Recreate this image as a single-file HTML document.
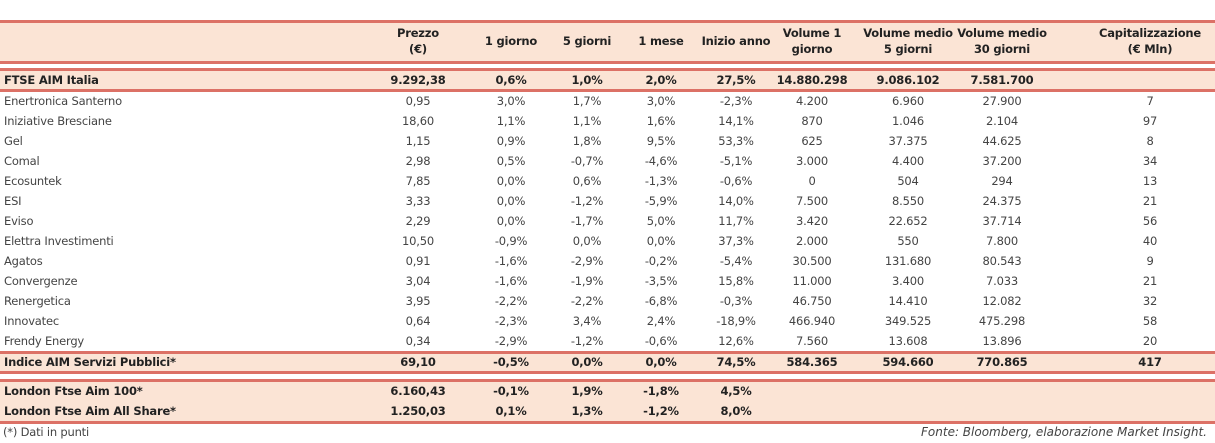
<!DOCTYPE html>
<html><head><meta charset="utf-8"><style>
body{margin:0;width:1215px;height:443px;background:#fff;font-family:"DejaVu Sans","Liberation Sans",sans-serif;position:relative;overflow:hidden}
.band{position:absolute;left:0;width:1215px;background:#fbe4d5}
.ln{position:absolute;left:0;width:1215px;height:3px;background:#dc7166}
.c{position:absolute;transform:translate(-50%,-50%);white-space:nowrap;font-size:11.5px;color:#444;letter-spacing:-0.2px}
.n{position:absolute;left:4px;transform:translateY(-50%);white-space:nowrap;font-size:11.5px;color:#444;letter-spacing:-0.2px}
.b{font-weight:bold;color:#222}
.h{text-align:center;line-height:16px;font-weight:bold;color:#222}
</style></head><body>
<div class="band" style="top:21px;height:42px"></div>
<div class="ln" style="top:20px"></div>
<div class="ln" style="top:61px"></div>
<div class="band" style="top:69px;height:21px"></div>
<div class="ln" style="top:68px"></div>
<div class="ln" style="top:89px"></div>
<div class="band" style="top:352px;height:20px"></div>
<div class="ln" style="top:351px"></div>
<div class="ln" style="top:371px"></div>
<div class="band" style="top:381px;height:41px"></div>
<div class="ln" style="top:379px"></div>
<div class="ln" style="top:421px"></div>
<div id="t"></div>
<div class="n" style="top:432px;left:3px">(*) Dati in punti</div>
<div style="position:absolute;right:8px;top:425px;font-size:12px;font-style:italic;color:#444">Fonte: Bloomberg, elaborazione Market Insight.</div>
<script>
const cols=[418,511,587,661,736,812,908,1002,1150];
const headers=["Prezzo<br>(€)","1 giorno","5 giorni","1 mese","Inizio anno","Volume 1<br>giorno","Volume medio<br>5 giorni","Volume medio<br>30 giorni","Capitalizzazione<br>(€ Mln)"];
const names=["FTSE AIM Italia","Enertronica Santerno","Iniziative Bresciane","Gel","Comal","Ecosuntek","ESI","Eviso","Elettra Investimenti","Agatos","Convergenze","Renergetica","Innovatec","Frendy Energy","Indice AIM Servizi Pubblici*","London Ftse Aim 100*","London Ftse Aim All Share*"];
const rows=[
["9.292,38","0,6%","1,0%","2,0%","27,5%","14.880.298","9.086.102","7.581.700",""],
["0,95","3,0%","1,7%","3,0%","-2,3%","4.200","6.960","27.900","7"],
["18,60","1,1%","1,1%","1,6%","14,1%","870","1.046","2.104","97"],
["1,15","0,9%","1,8%","9,5%","53,3%","625","37.375","44.625","8"],
["2,98","0,5%","-0,7%","-4,6%","-5,1%","3.000","4.400","37.200","34"],
["7,85","0,0%","0,6%","-1,3%","-0,6%","0","504","294","13"],
["3,33","0,0%","-1,2%","-5,9%","14,0%","7.500","8.550","24.375","21"],
["2,29","0,0%","-1,7%","5,0%","11,7%","3.420","22.652","37.714","56"],
["10,50","-0,9%","0,0%","0,0%","37,3%","2.000","550","7.800","40"],
["0,91","-1,6%","-2,9%","-0,2%","-5,4%","30.500","131.680","80.543","9"],
["3,04","-1,6%","-1,9%","-3,5%","15,8%","11.000","3.400","7.033","21"],
["3,95","-2,2%","-2,2%","-6,8%","-0,3%","46.750","14.410","12.082","32"],
["0,64","-2,3%","3,4%","2,4%","-18,9%","466.940","349.525","475.298","58"],
["0,34","-2,9%","-1,2%","-0,6%","12,6%","7.560","13.608","13.896","20"],
["69,10","-0,5%","0,0%","0,0%","74,5%","584.365","594.660","770.865","417"],
["6.160,43","-0,1%","1,9%","-1,8%","4,5%","","","",""],
["1.250,03","0,1%","1,3%","-1,2%","8,0%","","","",""]];
const ys=[80,101,121,141,161,181,201,221,241,261,281,301,321,341,362,391,411];
const bold=[0,14,15,16];
const t=document.getElementById('t');
headers.forEach((h,i)=>{const d=document.createElement('div');d.className='c h';d.style.left=cols[i]+'px';d.style.top='41px';d.innerHTML=h;


t.appendChild(d);});
names.forEach((nm,r)=>{const b=bold.includes(r);
const n=document.createElement('div');n.className='n'+(b?' b':'');n.style.top=ys[r]+'px';n.textContent=nm;


t.appendChild(n);
rows[r].forEach((v,i)=>{if(!v)return;const d=document.createElement('div');d.className='c'+(b?' b':'');d.style.left=cols[i]+'px';d.style.top=ys[r]+'px';d.textContent=v;


t.appendChild(d);});});
</script>
</body></html>
